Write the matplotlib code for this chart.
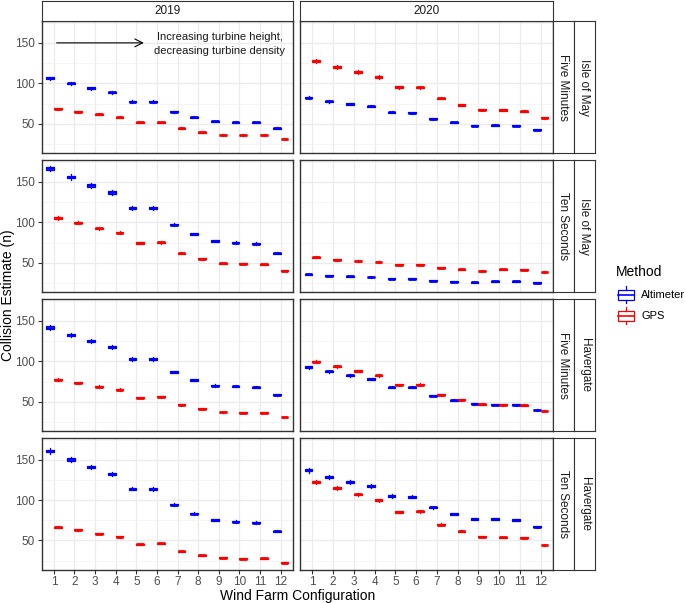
import matplotlib
matplotlib.use("Agg")
from matplotlib import pyplot as plt
from matplotlib.patches import Rectangle
import numpy as np

plt.rcParams['font.family'] = ['Liberation Sans', 'DejaVu Sans']

configs = list(range(1, 13))
years = ["2019", "2020"]
row_labels = [("Five Minutes", "Isle of May"), ("Ten Seconds", "Isle of May"),
              ("Five Minutes", "Havergate"), ("Ten Seconds", "Havergate")]

# median collision estimates: [row][year]
altimeter = [
    [[106.3, 100.0, 94.2, 88.8, 77.5, 77.5, 65.0, 58.3, 52.9, 52.1, 51.7, 44.6],
     [82.5, 77.9, 74.6, 71.7, 64.2, 63.8, 56.3, 51.7, 47.9, 48.3, 47.9, 42.9]],
    [[166.7, 156.0, 145.7, 137.0, 118.1, 117.7, 97.1, 85.6, 77.0, 74.9, 73.7, 62.1],
     [35.8, 34.2, 33.3, 32.5, 30.5, 30.5, 28.0, 26.7, 25.9, 27.2, 27.2, 25.5]],
    [[141.8, 132.8, 124.6, 118.0, 102.9, 102.9, 86.9, 77.0, 70.1, 69.3, 68.0, 58.6],
     [93.0, 87.7, 82.8, 78.3, 68.0, 68.0, 57.8, 52.0, 47.5, 46.7, 46.3, 39.8]],
    [[161.0, 150.4, 141.0, 132.4, 114.3, 113.9, 94.3, 83.2, 75.4, 73.4, 72.1, 61.5],
     [136.9, 128.7, 122.5, 117.2, 104.9, 104.1, 91.0, 82.8, 76.6, 76.6, 75.4, 66.8]],
]
gps = [
    [[68.8, 65.0, 61.7, 58.3, 51.7, 51.7, 44.6, 39.6, 36.3, 36.3, 36.3, 31.3],
     [127.9, 120.0, 113.8, 107.9, 95.4, 95.0, 81.7, 73.3, 67.5, 67.1, 65.4, 57.5]],
    [[105.3, 99.6, 92.6, 87.2, 74.5, 75.3, 61.7, 55.1, 49.4, 49.0, 48.1, 40.3],
     [56.8, 53.9, 52.3, 51.0, 47.7, 47.7, 44.0, 42.0, 39.9, 42.0, 41.6, 38.7]],
    [[77.5, 73.4, 68.9, 65.2, 55.3, 56.1, 46.3, 41.4, 37.3, 36.5, 36.5, 31.1],
     [99.6, 93.9, 88.1, 82.8, 70.9, 71.3, 58.6, 52.5, 47.1, 46.3, 45.9, 38.9]],
    [[66.4, 63.5, 58.6, 54.5, 45.1, 46.3, 36.5, 31.6, 28.7, 27.5, 27.9, 22.5],
     [122.1, 114.8, 107.0, 100.0, 85.2, 86.1, 69.7, 61.5, 54.9, 53.7, 53.3, 44.3]],
]
methods = ["Altimeter", "GPS"]
colors = {"Altimeter": "#0000FF", "GPS": "#FF0000"}

W, H = 685, 603
fig = plt.figure(figsize=(W / 100, H / 100), dpi=100)


def px_axes(x0, y0, x1, y1):
    return fig.add_axes([x0 / W, 1 - y1 / H, (x1 - x0) / W, (y1 - y0) / H])


def box_stats(vals):
    out = []
    for v in vals:
        out.append(dict(med=v, q1=v * 0.99, q3=v * 1.01,
                        whislo=v * 0.98, whishi=v * 1.02, fliers=[]))
    return out


col_x = [(41.5, 293), (300, 553)]
row_y = [(21, 153), (160, 292), (299, 431), (438, 569.5)]
edge = "#333333"

for r in range(4):
    for c in range(2):
        ax = px_axes(col_x[c][0], row_y[r][0], col_x[c][1], row_y[r][1])

        for m, data, off in [("Altimeter", altimeter, -0.1875), ("GPS", gps, 0.1875)]:
            col = colors[m]
            ax.bxp(box_stats(data[r][c]), positions=np.array(configs) + off,
                   widths=0.38, patch_artist=True, showfliers=False, showcaps=False,
                   manage_ticks=False,
                   boxprops=dict(facecolor="white", edgecolor=col, lw=0.9),
                   whiskerprops=dict(color=col, lw=0.9),
                   medianprops=dict(color=col, lw=2.0))

        ax.set_xlim(0.4, 12.6)
        ax.set_ylim(14, 177)
        ax.set_yticks([50, 100, 150])
        ax.set_yticks([25, 75, 125, 175], minor=True)
        ax.set_xticks(configs)
        ax.set_xticklabels([str(v) for v in configs])
        ax.grid(True, which="major", color="#EBEBEB", lw=0.9)
        ax.grid(True, which="minor", axis="y", color="#F2F2F2", lw=0.5)
        ax.set_axisbelow(True)
        for s in ax.spines.values():
            s.set_color(edge)
            s.set_linewidth(1.0)
        ax.tick_params(which="minor", length=0)
        ax.tick_params(which="major", length=3, color=edge, width=0.8,
                       labelsize=8.5, labelcolor="#4D4D4D", pad=2)
        if c != 0:
            ax.tick_params(axis="y", length=0, labelleft=False)
        if r != 3:
            ax.tick_params(axis="x", length=0, labelbottom=False)

        if r == 0 and c == 0:
            ax.annotate("", xy=(5.5, 150), xytext=(1.0, 150),
                        arrowprops=dict(arrowstyle="->", color="black", lw=0.8,
                                        mutation_scale=14))
            ax.text(9.05, 149, "Increasing turbine height,\ndecreasing turbine density",
                    ha="center", va="center", fontsize=8, color="#1A1A1A",
                    linespacing=1.5)

# top strips
for c in range(2):
    sa = px_axes(col_x[c][0], 1, col_x[c][1], 21)
    sa.set_xticks([])
    sa.set_yticks([])
    for s in sa.spines.values():
        s.set_color(edge)
    sa.text(0.5, 0.5, years[c], ha="center", va="center", fontsize=8.5,
            color="#1A1A1A", transform=sa.transAxes)

# right strips
for r in range(4):
    for k, (x0, x1) in enumerate([(553, 574), (574, 595)]):
        sa = px_axes(x0, row_y[r][0], x1, row_y[r][1])
        sa.set_xticks([])
        sa.set_yticks([])
        for s in sa.spines.values():
            s.set_color(edge)
        sa.text(0.5, 0.5, row_labels[r][k], ha="center", va="center", fontsize=8.5,
                rotation=-90, color="#1A1A1A", transform=sa.transAxes)

fig.text((41.5 + 553) / 2 / W, 1 - 596 / H, "Wind Farm Configuration",
         ha="center", va="center", fontsize=10)
fig.text(8 / W, 1 - (21 + 569.5) / 2 / H, "Collision Estimate (n)",
         ha="center", va="center", rotation=90, fontsize=10)

# legend
fig.text(616 / W, 1 - 272 / H, "Method", ha="left", va="center", fontsize=10)
la = px_axes(610, 280, 685, 330)
la.set_xlim(610, 685)
la.set_ylim(330, 280)
la.axis("off")
for m, yc in [("Altimeter", 295), ("GPS", 316)]:
    col = colors[m]
    la.add_patch(Rectangle((618, yc - 5), 16, 10, fill=False, ec=col, lw=0.9))
    la.plot([618, 634], [yc, yc], color=col, lw=1.2)
    la.plot([626, 626], [yc - 8.5, yc - 5], color=col, lw=0.9)
    la.plot([626, 626], [yc + 5, yc + 8.5], color=col, lw=0.9)
    fig.text(641 / W, 1 - yc / H, m, ha="left", va="center", fontsize=8)

fig.savefig("out.png", dpi=100)
